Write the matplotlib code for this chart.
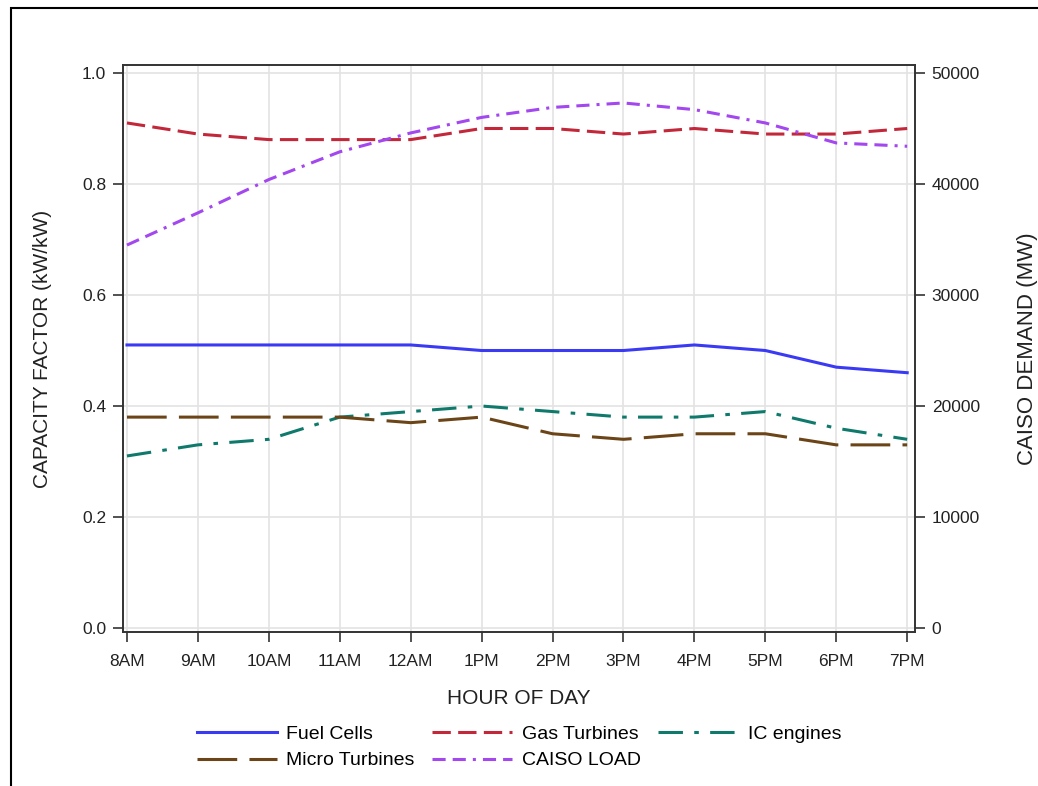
import matplotlib
matplotlib.use("Agg")
import matplotlib.pyplot as plt
from matplotlib.patches import Rectangle

plt.rcParams['font.family'] = ['Liberation Sans', 'DejaVu Sans']

hours = ['8AM', '9AM', '10AM', '11AM', '12AM', '1PM', '2PM', '3PM', '4PM', '5PM', '6PM', '7PM']

# capacity factors (kW/kW)
fuel_cells = [0.51, 0.51, 0.51, 0.51, 0.51, 0.50, 0.50, 0.50, 0.51, 0.50, 0.47, 0.46]
gas_turbines = [0.91, 0.89, 0.88, 0.88, 0.88, 0.90, 0.90, 0.89, 0.90, 0.89, 0.89, 0.90]
ic_engines = [0.31, 0.33, 0.34, 0.38, 0.39, 0.40, 0.39, 0.38, 0.38, 0.39, 0.36, 0.34]
micro_turbines = [0.38, 0.38, 0.38, 0.38, 0.37, 0.38, 0.35, 0.34, 0.35, 0.35, 0.33, 0.33]

# CAISO load (MW)
caiso_load = [34500, 37400, 40400, 42900, 44600, 46000, 46900, 47300, 46700, 45500, 43700, 43400]

x = list(range(len(hours)))

fig = plt.figure(figsize=(10.38, 7.86), dpi=100)
ax = fig.add_axes([0.1185, 0.1959, 0.763, 0.7214])
ax2 = ax.twinx()

lw = 2.2
l1, = ax.plot(x, fuel_cells, color='#3a3af5', lw=lw, ls='-', label='Fuel Cells')
l2, = ax.plot(x, gas_turbines, color='#c2283a', lw=lw, ls=(0, (6, 2.4)), label='Gas Turbines')
l3, = ax.plot(x, ic_engines, color='#0f7a6b', lw=lw, ls=(0, (8, 3.7, 1.5, 3.7)), label='IC engines')
l4, = ax.plot(x, micro_turbines, color='#6b4518', lw=lw, ls=(0, (13, 4)), label='Micro Turbines')
l5, = ax2.plot(x, caiso_load, color='#a347ef', lw=lw,
               ls=(0, (4.3, 2.3, 4.3, 2.3, 1, 2.3)), label='CAISO LOAD')

ax.set_xlim(-0.056, 11.11)
ax.set_ylim(-0.0072, 1.0144)
ax2.set_ylim(-360, 50720)

ax.set_xticks(x)
ax.set_xticklabels(hours)
ax.set_yticks([0.0, 0.2, 0.4, 0.6, 0.8, 1.0])
ax.set_yticklabels(['0.0', '0.2', '0.4', '0.6', '0.8', '1.0'])
ax2.set_yticks([0, 10000, 20000, 30000, 40000, 50000])

ax.grid(True, color='#e3e3e3', lw=1.2)
ax.set_axisbelow(True)

for a in (ax, ax2):
    a.tick_params(labelsize=12.5, length=7, width=1.2, pad=5,
                  color='#333333', labelcolor='#222222')
    for s in a.spines.values():
        s.set_color('#333333')
        s.set_linewidth(1.2)
ax.tick_params(axis='x', pad=9)

ax.set_xlabel('HOUR OF DAY', fontsize=15, color='#222222', labelpad=14)
ax.set_ylabel('CAPACITY FACTOR (kW/kW)', fontsize=15, color='#222222', labelpad=22)
ax2.set_ylabel('CAISO DEMAND (MW)', fontsize=16, color='#222222', labelpad=27)

# row-wise legend order for 3 columns
fig.legend(handles=[l1, l4, l2, l5, l3], loc='center', bbox_to_anchor=(0.5, 0.049),
           ncol=3, frameon=False, fontsize=14, handlelength=4.1,
           columnspacing=0.9, handletextpad=0.5, labelspacing=0.45)

# outer frame (left and top edges visible)
fig.patches.append(Rectangle((11 / 1038, -0.2), 1.2, 1.2 - 8 / 786,
                             transform=fig.transFigure, fill=False,
                             edgecolor='black', lw=1.5))

fig.savefig('out.png', dpi=100)
